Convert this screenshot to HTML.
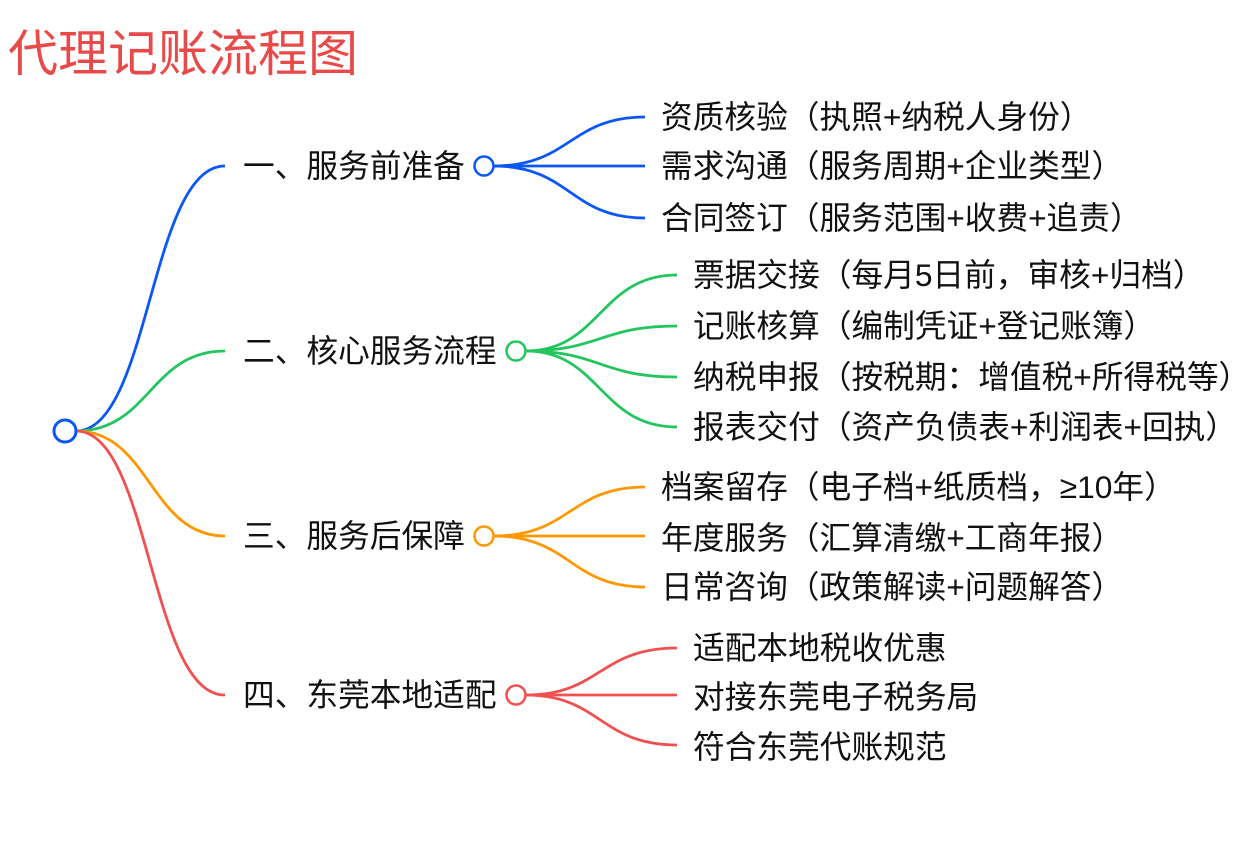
<!DOCTYPE html>
<html><head><meta charset="utf-8"><style>
html,body{margin:0;padding:0;background:#fff;}
svg{display:block;}
text{font-family:"Liberation Sans","Noto Sans CJK SC",sans-serif;fill:#111;}
</style></head><body>
<svg width="1233" height="862" viewBox="0 0 1233 862" xmlns="http://www.w3.org/2000/svg">
<text x="8" y="54" font-size="50" style="fill:#e84a4a" dominant-baseline="central">代理记账流程图</text>
<g fill="none" stroke-width="2.8">
<path d="M76,431 C150,431 150,166 225,166" stroke="#0b57f5"/>
<path d="M76,431 C150,431 150,351 225,351" stroke="#22c55e"/>
<path d="M76,431 C150,431 150,536 225,536" stroke="#ff9800"/>
<path d="M76,431 C150,431 150,695 225,695" stroke="#f05050"/>
<path d="M494,166 C570,166 570,117 645,117" stroke="#0b57f5"/>
<path d="M494,166 L645,166" stroke="#0b57f5"/>
<path d="M494,166 C570,166 570,218 645,218" stroke="#0b57f5"/>
<path d="M526,351 C600,351 600,275 677,275" stroke="#22c55e"/>
<path d="M526,351 C600,351 600,326 677,326" stroke="#22c55e"/>
<path d="M526,351 C600,351 600,377 677,377" stroke="#22c55e"/>
<path d="M526,351 C600,351 600,427 677,427" stroke="#22c55e"/>
<path d="M494,536 C570,536 570,487 645,487" stroke="#ff9800"/>
<path d="M494,536 L645,536" stroke="#ff9800"/>
<path d="M494,536 C570,536 570,587 645,587" stroke="#ff9800"/>
<path d="M526,695 C600,695 600,648 677,648" stroke="#f05050"/>
<path d="M526,695 L677,695" stroke="#f05050"/>
<path d="M526,695 C600,695 600,745 677,745" stroke="#f05050"/>
<circle cx="65" cy="431" r="11" stroke="#0b57f5" stroke-width="3" fill="#fff"/>
<circle cx="484" cy="166" r="9.5" stroke="#0b57f5" stroke-width="2.5" fill="#fff"/>
<circle cx="516" cy="351" r="9.5" stroke="#22c55e" stroke-width="2.5" fill="#fff"/>
<circle cx="484" cy="536" r="9.5" stroke="#ff9800" stroke-width="2.5" fill="#fff"/>
<circle cx="516" cy="695" r="9.5" stroke="#f05050" stroke-width="2.5" fill="#fff"/>
</g>
<g font-size="31.7">
<text x="243" y="166" dominant-baseline="central">一、服务前准备</text>
<text x="243" y="351" dominant-baseline="central">二、核心服务流程</text>
<text x="243" y="536" dominant-baseline="central">三、服务后保障</text>
<text x="243" y="695" dominant-baseline="central">四、东莞本地适配</text>

<text x="661" y="117" dominant-baseline="central">资质核验（执照+纳税人身份）</text>
<text x="661" y="166" dominant-baseline="central">需求沟通（服务周期+企业类型）</text>
<text x="661" y="218" dominant-baseline="central">合同签订（服务范围+收费+追责）</text>

<text x="693" y="275" dominant-baseline="central">票据交接（每月5日前，审核+归档）</text>
<text x="693" y="326" dominant-baseline="central">记账核算（编制凭证+登记账簿）</text>
<text x="693" y="377" dominant-baseline="central">纳税申报（按税期：增值税+所得税等）</text>
<text x="693" y="427" dominant-baseline="central">报表交付（资产负债表+利润表+回执）</text>

<text x="661" y="487" dominant-baseline="central">档案留存（电子档+纸质档，≥10年）</text>
<text x="661" y="538" dominant-baseline="central">年度服务（汇算清缴+工商年报）</text>
<text x="661" y="587" dominant-baseline="central">日常咨询（政策解读+问题解答）</text>

<text x="693" y="648" dominant-baseline="central">适配本地税收优惠</text>
<text x="693" y="697" dominant-baseline="central">对接东莞电子税务局</text>
<text x="693" y="747" dominant-baseline="central">符合东莞代账规范</text>
</g>
</svg>
</body></html>
